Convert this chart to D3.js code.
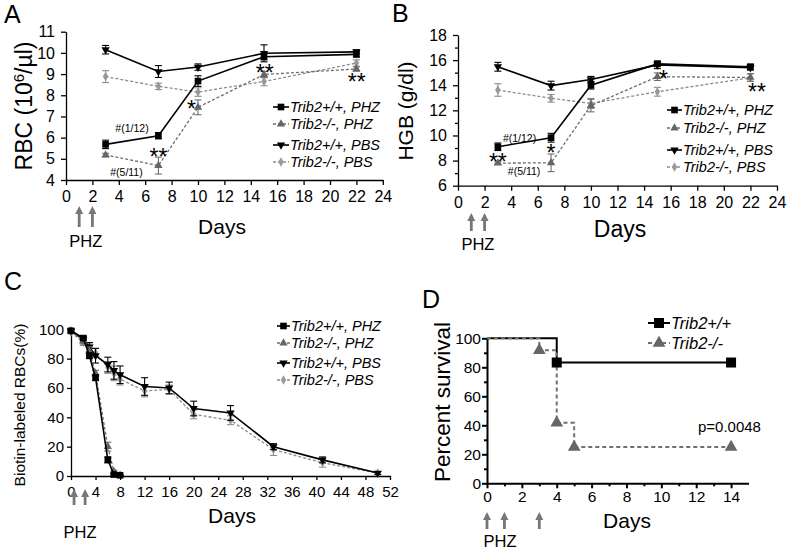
<!DOCTYPE html>
<html><head><meta charset="utf-8">
<script src="https://cdn.jsdelivr.net/npm/d3@7"></script>
<style>
body{margin:0;background:#fff;}
svg{display:block;font-family:"Liberation Sans",Arial,sans-serif;}
</style></head><body>
<svg id="chart" width="787" height="549"></svg>
<script>
// ---------- DATA ----------
const daysAB = [3, 7, 10, 15, 22];
const abTicksX = [0,2,4,6,8,10,12,14,16,18,20,22,24];
const legendLabelsABC = ["Trib2+/+, PHZ", "Trib2-/-, PHZ", "Trib2+/+, PBS", "Trib2-/-, PBS"];

// Panel A: RBC (10^6/µl)
const rbcWtPhz    = [5.68, 6.09, 8.67, 9.82, 9.93];
const rbcWtPhzErr = [0.2, 0.15, 0.25, 0.15, 0.12];
const rbcKoPhz    = [5.18, 4.68, 7.43, 8.98, 9.24];
const rbcKoPhzErr = [0.08, 0.4, 0.35, 0.15, 0.1];
const rbcWtPbs    = [10.15, 9.12, 9.33, 9.98, 10.05];
const rbcWtPbsErr = [0.2, 0.28, 0.15, 0.4, 0.1];
const rbcKoPbs    = [8.88, 8.42, 8.15, 8.65, 9.52];
const rbcKoPbsErr = [0.28, 0.15, 0.2, 0.2, 0.15];
const rbcTicks = [4,5,6,7,8,9,10,11];

// Panel B: HGB (g/dl)
const hgbWtPhz    = [9.1, 9.82, 14.0, 15.7, 15.47];
const hgbWtPhzErr = [0.3, 0.35, 0.3, 0.2, 0.2];
const hgbKoPhz    = [7.8, 7.82, 12.38, 14.68, 14.62];
const hgbKoPhzErr = [0.1, 0.7, 0.5, 0.3, 0.3];
const hgbWtPbs    = [15.47, 13.97, 14.45, 15.62, 15.4];
const hgbWtPbsErr = [0.35, 0.35, 0.25, 0.3, 0.2];
const hgbKoPbs    = [13.62, 12.96, 12.55, 13.48, 14.6];
const hgbKoPbsErr = [0.5, 0.3, 0.4, 0.35, 0.3];
const hgbTicks = [6,8,10,12,14,16,18];
const hgbMinor = [7,9,11,13,15,17];

// Panel C: Biotin-labeled RBCs (%)
const daysCphz = [0, 2, 3, 4, 6, 7, 8];
const daysCpbs = [0, 2, 3, 4, 6, 7, 8, 12, 16, 20, 26, 33, 41, 50];
const bioWtPhz    = [99, 94, 82, 67, 11, 1, 0.5];
const bioWtPhzErr = [1, 1.5, 2, 2, 2, 0.5, 0.3];
const bioKoPhz    = [99, 92, 85, 70, 20, 3, 0.5];
const bioKoPhzErr = [1, 2, 3, 2, 3, 1, 0.3];
const bioWtPbs    = [99, 93, 88, 82, 76, 72, 69, 61, 60, 46, 43, 20, 11, 2];
const bioWtPbsErr = [1, 2, 3, 5, 5, 6, 6, 6, 4, 5, 5, 2, 2, 1];
const bioKoPbs    = [98, 91, 87, 84, 74, 70, 66, 58, 59, 42, 38, 18, 9, 2];
const bioKoPbsErr = [1, 2, 3, 3, 4, 5, 4, 4, 3, 3, 3, 4, 3, 1];
const cTicksX = [0,4,8,12,16,20,24,28,32,36,40,44,48,52];
const cTicksY = [0,20,40,60,80,100];

// Panel D: Percent survival (Kaplan-Meier steps)
const survWtDays = [0, 4, 4, 14];
const survWtPct  = [100, 100, 83.3, 83.3];
const survWtMarkDays = [4, 14];
const survWtMarkPct  = [83.3, 83.3];
const survKoDays = [0, 3, 3, 4, 4, 5, 5, 14];
const survKoPct  = [100, 100, 91.7, 91.7, 41.7, 41.7, 25, 25];
const survKoMarkDays = [3, 4, 5, 14];
const survKoMarkPct  = [91.7, 41.7, 25, 25];
const dTicksX = [0,2,4,6,8,10,12,14];
const dMinorX = [1,3,5,7,9,11,13];
const dTicksY = [0,20,40,60,80,100];
const dMinorY = [10,30,50,70,90];
const legendLabelsD = ["Trib2+/+", "Trib2-/-"];

// ---------- RENDER ----------
const svg = d3.select('#chart');
const FONT = '"Liberation Sans",Arial,sans-serif';

const ST = {
  wtPhz: {color:'#000', fill:'#000', dash:null, sym:d3.symbolSquare, size:44, rot:false, lw:1.6},
  koPhz: {color:'#6e6e6e', fill:'#666', dash:'3,2', sym:d3.symbolTriangle, size:30, rot:false, lw:1.3},
  wtPbs: {color:'#000', fill:'#000', dash:null, sym:d3.symbolTriangle, size:30, rot:true, lw:1.6},
  koPbs: {color:'#8c8c8c', fill:'#999', dash:'3,2', sym:d3.symbolDiamond, size:26, rot:false, lw:1.3}
};

function styleAxis(a, fs, sw) {
  a.attr('font-family', FONT);
  a.select('.domain').attr('stroke', '#000').attr('stroke-width', sw);
  a.selectAll('.tick line').attr('stroke', '#000').attr('stroke-width', sw);
  a.selectAll('.tick text').attr('font-size', fs).attr('fill', '#000');
}

function drawAxes(g, x, y, c) {
  const ax = g.append('g').attr('transform', `translate(0,${y.range()[0]})`)
    .call(d3.axisBottom(x).tickValues(c.xTicks).tickSize(c.tick).tickPadding(c.xPad).tickSizeOuter(0).tickFormat(d3.format('d')));
  styleAxis(ax, c.fs, c.sw);
  const ay = g.append('g').attr('transform', `translate(${x.range()[0]},0)`)
    .call(d3.axisLeft(y).tickValues(c.yTicks).tickSize(c.tick).tickPadding(c.yPad).tickSizeOuter(0).tickFormat(d3.format('d')));
  styleAxis(ay, c.fs, c.sw);
  if (c.yMinor) {
    const m = g.append('g').attr('transform', `translate(${x.range()[0]},0)`)
      .call(d3.axisLeft(y).tickValues(c.yMinor).tickSize(c.tick * 0.6).tickFormat(''));
    m.select('.domain').remove();
    m.selectAll('.tick line').attr('stroke', '#000').attr('stroke-width', c.sw);
  }
  if (c.xMinor) {
    const m = g.append('g').attr('transform', `translate(0,${y.range()[0]})`)
      .call(d3.axisBottom(x).tickValues(c.xMinor).tickSize(c.tick * 0.6).tickFormat(''));
    m.select('.domain').remove();
    m.selectAll('.tick line').attr('stroke', '#000').attr('stroke-width', c.sw);
  }
}

function symPath(st) { return d3.symbol().type(st.sym).size(st.size)(); }

function drawSeries(g, x, y, xs, ys, errs, st) {
  const pts = xs.map((d, i) => ({x: d, y: ys[i], e: errs ? errs[i] : 0}));
  g.append('path').datum(pts)
    .attr('d', d3.line().x(d => x(d.x)).y(d => y(d.y)))
    .attr('fill', 'none').attr('stroke', st.color).attr('stroke-width', st.lw)
    .attr('stroke-dasharray', st.dash);
  if (errs) {
    const eb = g.append('g').attr('stroke', st.color).attr('stroke-width', 1.1);
    pts.forEach(p => {
      const cx = x(p.x), y1 = y(p.y - p.e), y2 = y(p.y + p.e);
      eb.append('line').attr('x1', cx).attr('x2', cx).attr('y1', y1).attr('y2', y2);
      eb.append('line').attr('x1', cx - 3.5).attr('x2', cx + 3.5).attr('y1', y1).attr('y2', y1);
      eb.append('line').attr('x1', cx - 3.5).attr('x2', cx + 3.5).attr('y1', y2).attr('y2', y2);
    });
  }
  g.selectAll(null).data(pts).enter().append('path')
    .attr('d', symPath(st))
    .attr('transform', d => `translate(${x(d.x)},${y(d.y)})${st.rot ? ' rotate(180)' : ''}`)
    .attr('fill', st.fill);
}

function legend(g, x1, x2, ys, labels, styles, fs, lw) {
  labels.forEach((lab, i) => {
    const st = styles[i];
    g.append('line').attr('x1', x1).attr('x2', x2).attr('y1', ys[i]).attr('y2', ys[i])
      .attr('stroke', st.color).attr('stroke-width', lw || st.lw).attr('stroke-dasharray', st.dash);
    g.append('path').attr('d', symPath(st))
      .attr('transform', `translate(${(x1 + x2) / 2},${ys[i]})${st.rot ? ' rotate(180)' : ''}`).attr('fill', st.fill);
    g.append('text').attr('x', x2 + 1).attr('y', ys[i]).attr('dy', '0.35em')
      .attr('font-size', fs).attr('font-style', 'italic').attr('fill', '#000').text(lab);
  });
}

function txt(g, x, y, s, fs, opts = {}) {
  return g.append('text').attr('x', x).attr('y', y).attr('font-size', fs)
    .attr('text-anchor', opts.anchor || 'middle').attr('fill', opts.fill || '#000')
    .attr('font-family', FONT).text(s);
}

function vtitle(g, cx, cy, fs) {
  return g.append('text').attr('transform', `translate(${cx},${cy}) rotate(-90)`)
    .attr('text-anchor', 'middle').attr('dy', '0.35em').attr('font-size', fs).attr('fill', '#000');
}

function arrow(g, cx, yTop, yBot) {
  g.append('path')
    .attr('d', `M${cx},${yTop} L${cx + 4},${yTop + 8} L${cx + 1.4},${yTop + 8} L${cx + 1.4},${yBot} L${cx - 1.4},${yBot} L${cx - 1.4},${yTop + 8} L${cx - 4},${yTop + 8} Z`)
    .attr('fill', '#777');
}

function star(g, x, y, s, fs) {
  txt(g, x, y + fs * 0.55, s, fs);
}

// ---- Panel A ----
{
  const g = svg.append('g');
  const x = d3.scaleLinear().domain([0, 24]).range([66, 382.8]);
  const y = d3.scaleLinear().domain([4, 11]).range([180, 31.7]);
  drawAxes(g, x, y, {xTicks: abTicksX, yTicks: rbcTicks, tick: 5, xPad: 6, yPad: 6, fs: 16, sw: 1.3});
  drawSeries(g, x, y, daysAB, rbcKoPbs, rbcKoPbsErr, ST.koPbs);
  drawSeries(g, x, y, daysAB, rbcKoPhz, rbcKoPhzErr, ST.koPhz);
  drawSeries(g, x, y, daysAB, rbcWtPbs, rbcWtPbsErr, ST.wtPbs);
  drawSeries(g, x, y, daysAB, rbcWtPhz, rbcWtPhzErr, ST.wtPhz);
  legend(g, 273, 289, [107, 124, 145, 162], legendLabelsABC, [ST.wtPhz, ST.koPhz, ST.wtPbs, ST.koPbs], 14.5);
  star(g, x(7), y(5.29), '**', 23);
  star(g, x(9.5), y(7.57), '*', 23);
  star(g, x(15.05), y(9.27), '**', 23);
  star(g, x(22.02), y(8.85), '**', 23);
  txt(g, x(5.0), y(6.45), '#(1/12)', 10.5).attr('dy', '0.35em');
  txt(g, x(4.58), y(4.38), '#(5/11)', 10.5).attr('dy', '0.35em');
  vtitle(g, 24, 106, 23).call(t => { t.append('tspan').text('RBC (10'); t.append('tspan').attr('baseline-shift', 'super').attr('font-size', 15).text('6'); t.append('tspan').text('/µl)'); });
  txt(g, 222, 234, 'Days', 21);
  arrow(g, x(1), 206, 227); arrow(g, x(2), 206, 227);
  txt(g, x(1.5), 247, 'PHZ', 16.5);
  txt(g, 4, 23, 'A', 25, {anchor: 'start'});
}

// ---- Panel B ----
{
  const g = svg.append('g');
  const x = d3.scaleLinear().domain([0, 24]).range([458, 777]);
  const y = d3.scaleLinear().domain([6, 18]).range([185.7, 35]);
  drawAxes(g, x, y, {xTicks: abTicksX, yTicks: hgbTicks, yMinor: hgbMinor, tick: 5, xPad: 6, yPad: 6, fs: 16, sw: 1.3});
  drawSeries(g, x, y, daysAB, hgbKoPbs, hgbKoPbsErr, ST.koPbs);
  drawSeries(g, x, y, daysAB, hgbKoPhz, hgbKoPhzErr, ST.koPhz);
  drawSeries(g, x, y, daysAB, hgbWtPbs, hgbWtPbsErr, ST.wtPbs);
  drawSeries(g, x, y, daysAB, hgbWtPhz, hgbWtPhzErr, ST.wtPhz);
  legend(g, 667, 682, [110, 128, 150, 167], legendLabelsABC, [ST.wtPhz, ST.koPhz, ST.wtPbs, ST.koPbs], 14.5);
  star(g, x(3.0), y(8.29), '**', 23);
  star(g, x(7.0), y(9.0), '*', 23);
  star(g, x(15.46), y(14.89), '*', 23);
  star(g, x(22.5), y(13.86), '**', 23);
  txt(g, x(4.63), y(9.8), '#(1/12)', 10.5).attr('dy', '0.35em');
  txt(g, x(4.97), y(7.17), '#(5/11)', 10.5).attr('dy', '0.35em');
  vtitle(g, 406, 111, 21).text('HGB (g/dl)');
  txt(g, 620, 237, 'Days', 23);
  arrow(g, x(1), 213, 231); arrow(g, x(2), 213, 231);
  txt(g, x(1.5), 250, 'PHZ', 16.5);
  txt(g, 392, 22, 'B', 25, {anchor: 'start'});
}

// ---- Panel C ----
{
  const g = svg.append('g');
  const x = d3.scaleLinear().domain([0, 52]).range([71, 390]);
  const y = d3.scaleLinear().domain([0, 100]).range([476, 329.3]);
  drawAxes(g, x, y, {xTicks: cTicksX, yTicks: cTicksY, tick: 4, xPad: 6, yPad: 3, fs: 15, sw: 1.3});
  drawSeries(g, x, y, daysCpbs, bioKoPbs, bioKoPbsErr, ST.koPbs);
  drawSeries(g, x, y, daysCpbs, bioWtPbs, bioWtPbsErr, ST.wtPbs);
  drawSeries(g, x, y, daysCphz, bioKoPhz, bioKoPhzErr, ST.koPhz);
  drawSeries(g, x, y, daysCphz, bioWtPhz, bioWtPhzErr, ST.wtPhz);
  legend(g, 277, 290, [326, 343, 363, 380], legendLabelsABC, [ST.wtPhz, ST.koPhz, ST.wtPbs, ST.koPbs], 14.5);
  vtitle(g, 20, 405, 15.5).text('Biotin-labeled RBCs(%)');
  txt(g, 232, 523, 'Days', 21);
  arrow(g, x(0.5), 489, 505); arrow(g, x(2.3), 489, 505);
  txt(g, 80, 538, 'PHZ', 16.5);
  txt(g, 4, 290, 'C', 25, {anchor: 'start'});
}

// ---- Panel D ----
{
  const g = svg.append('g');
  const x = d3.scaleLinear().domain([0, 15]).range([487, 748.5]);
  const y = d3.scaleLinear().domain([0, 100]).range([483.3, 338.3]);
  drawAxes(g, x, y, {xTicks: dTicksX, xMinor: dMinorX, yTicks: dTicksY, yMinor: dMinorY, tick: 5, xPad: 3, yPad: 1, fs: 15.5, sw: 2});
  const stWt = {color: '#000', fill: '#000', dash: null, sym: d3.symbolSquare, size: 100, rot: false, lw: 2};
  const stKo = {color: '#707070', fill: '#666', dash: '4,3', sym: d3.symbolTriangle, size: 70, rot: false, lw: 2};
  const line = d3.line().x(d => x(d[0])).y(d => y(d[1]));
  g.append('path').datum(survWtDays.map((d, i) => [d, survWtPct[i]])).attr('d', line)
    .attr('fill', 'none').attr('stroke', stWt.color).attr('stroke-width', 2);
  g.append('path').datum(survKoDays.map((d, i) => [d, survKoPct[i]])).attr('d', line)
    .attr('fill', 'none').attr('stroke', stKo.color).attr('stroke-width', 2).attr('stroke-dasharray', stKo.dash);
  g.selectAll(null).data(survWtMarkDays.map((d, i) => [d, survWtMarkPct[i]])).enter().append('path')
    .attr('d', symPath(stWt)).attr('transform', d => `translate(${x(d[0])},${y(d[1])})`).attr('fill', stWt.fill);
  g.selectAll(null).data(survKoMarkDays.map((d, i) => [d, survKoMarkPct[i]])).enter().append('path')
    .attr('d', symPath(stKo)).attr('transform', d => `translate(${x(d[0])},${y(d[1])})`).attr('fill', stKo.fill);
  legend(g, 648, 670, [323, 343], legendLabelsD, [stWt, stKo], 16.5, 2);
  txt(g, x(12.1), y(38.8), 'p=0.0048', 15, {anchor: 'start'}).attr('dy', '0.35em');
  vtitle(g, 442, 402, 22.5).text('Percent survival');
  txt(g, 627, 528, 'Days', 21);
  arrow(g, x(0), 512, 529); arrow(g, x(1), 512, 529); arrow(g, x(3), 512, 529);
  txt(g, 500, 547, 'PHZ', 16.5);
  txt(g, 422, 308, 'D', 25, {anchor: 'start'});
}
</script>
</body></html>
